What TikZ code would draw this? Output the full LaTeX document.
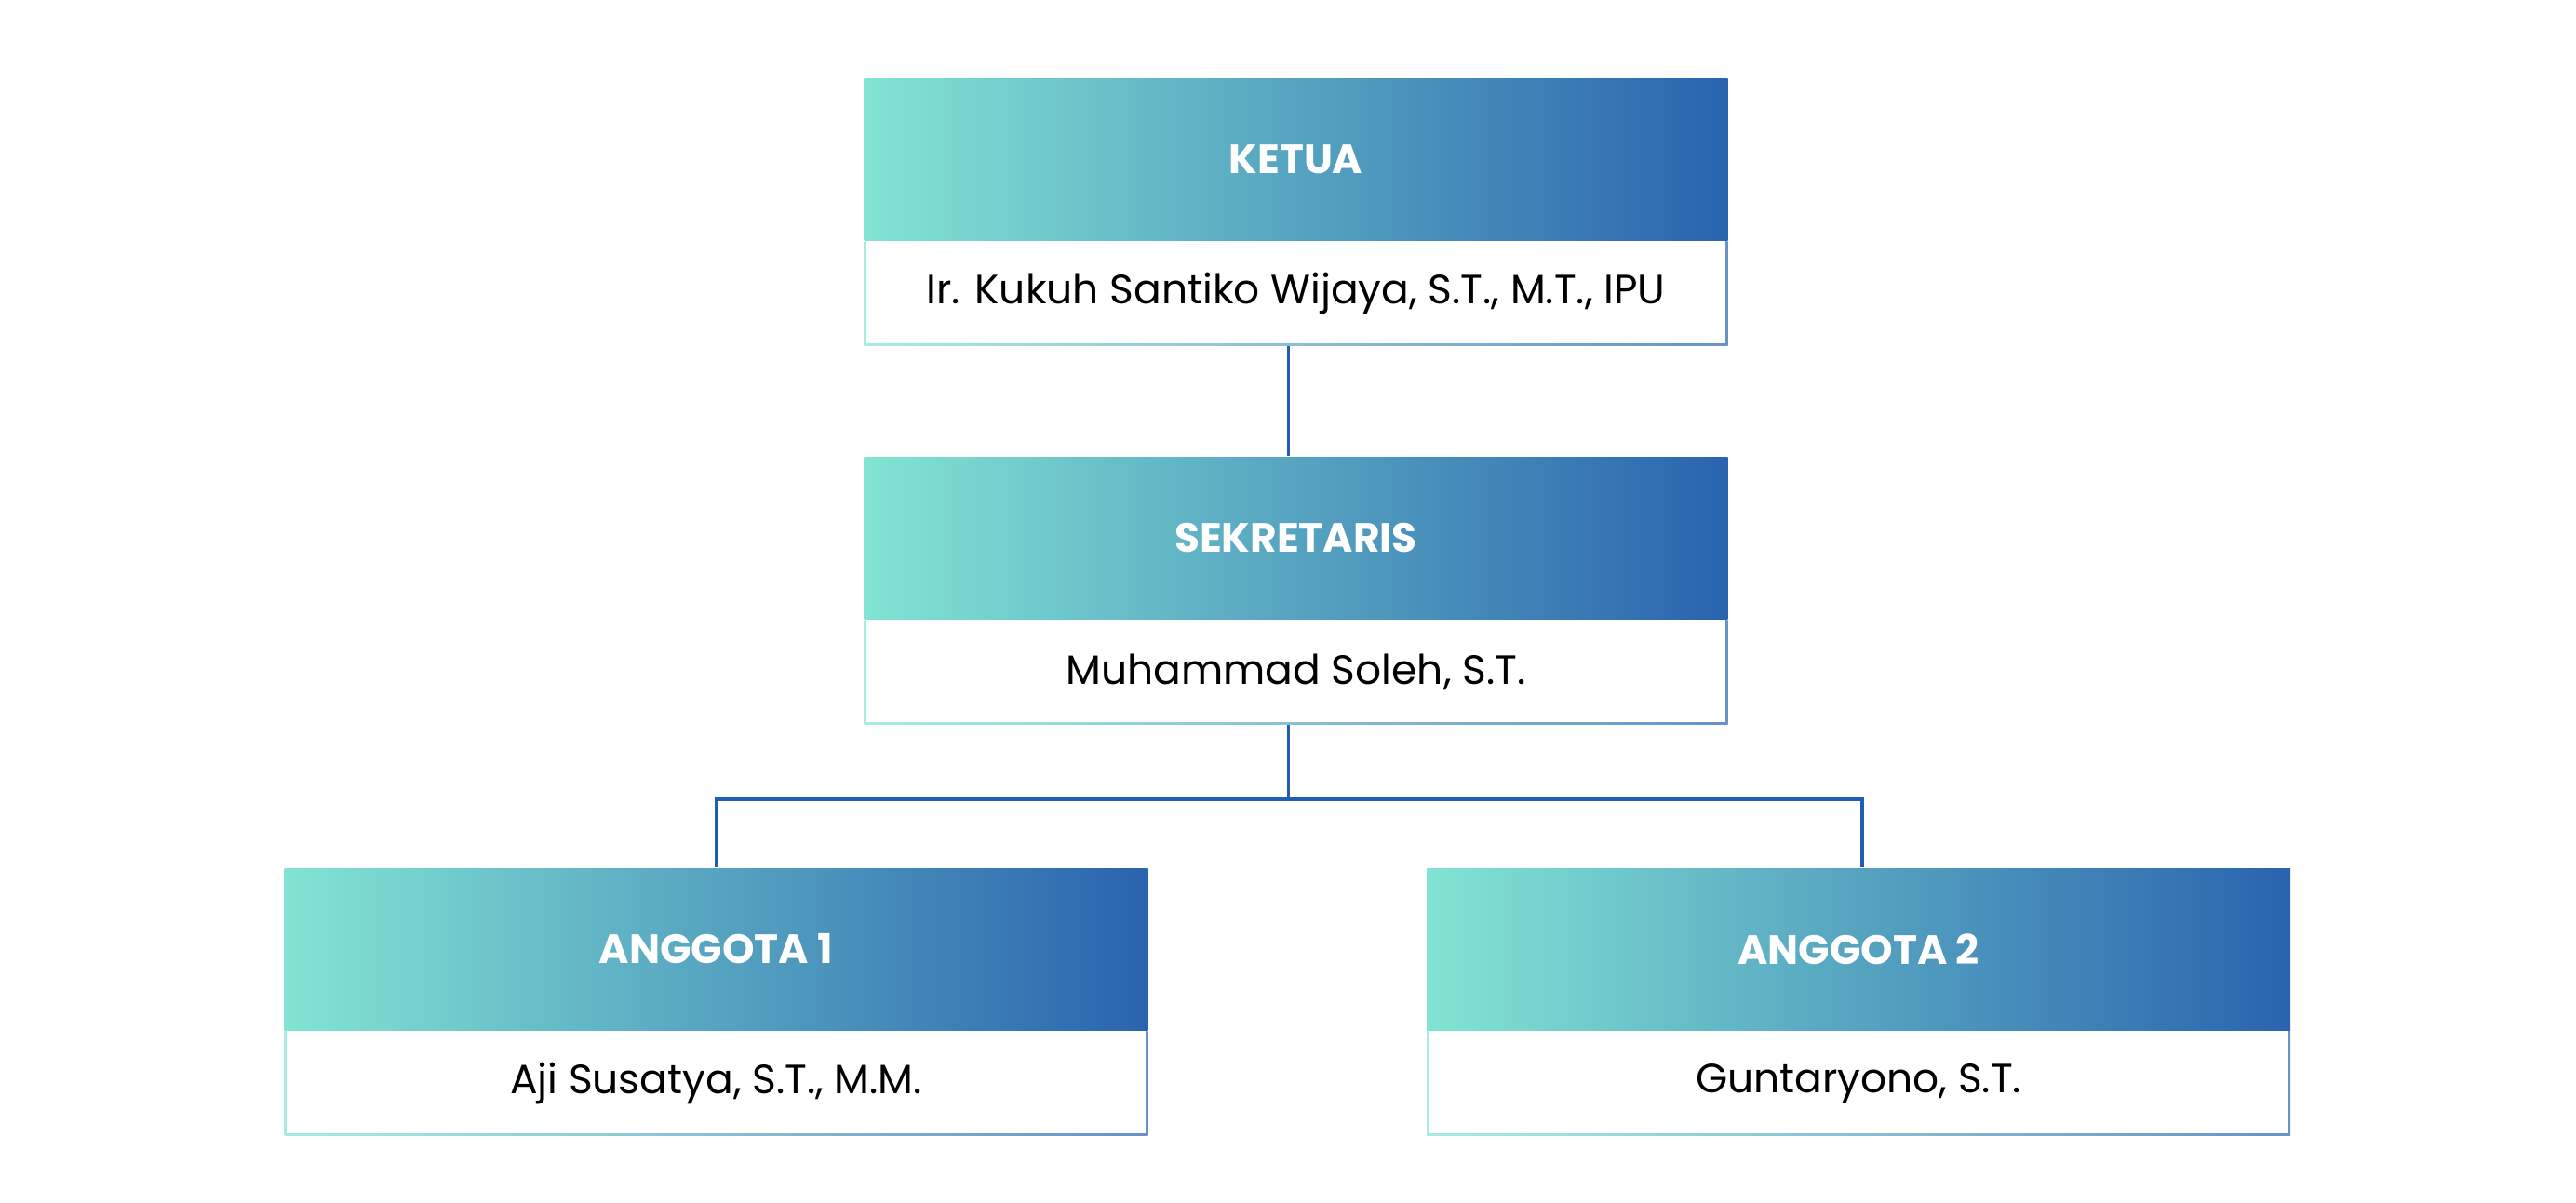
\documentclass[tikz,border=0pt]{standalone}
\usepackage{fontspec}
\setmainfont{Poppins}
\usetikzlibrary{positioning}
\definecolor{mint}{HTML}{82E4D3}
\definecolor{deepblue}{HTML}{2A63AE}
\definecolor{linkblue}{HTML}{1E5EB4}
\tikzset{
  headbox/.style={minimum width=9.28cm, minimum height=1.74cm, inner sep=0pt,
    left color=mint, right color=deepblue, text=white, font=\fontsize{12.5}{14}\selectfont\bfseries},
  namebox/.style={minimum width=9.28cm, minimum height=1.12cm, inner sep=0pt,
    left color=mint!70, right color=deepblue!70, font=\fontsize{12.5}{14}\selectfont,
    path picture={\fill[white] ([shift={(0.6pt,0.6pt)}]path picture bounding box.south west)
      rectangle ([shift={(-0.6pt,0pt)}]path picture bounding box.north east);}},
  link/.style={draw=linkblue, line width=1.1pt}
}
\begin{document}
\begin{tikzpicture}
\useasboundingbox[fill=white] (0,0) rectangle (27.68,-12.92);

\node[headbox] (ketua) at (13.925,-1.71) {KETUA};
\node[namebox, below=0pt of ketua] (ketuaname) {Ir. Kukuh Santiko Wijaya, S.T., M.T., IPU};

\node[headbox] (sekretaris) at (13.925,-5.78) {SEKRETARIS};
\node[namebox, below=0pt of sekretaris] (sekretarisname) {Muhammad Soleh, S.T.};

\node[headbox] (anggota1) at (7.695,-10.20) {ANGGOTA 1};
\node[namebox, below=0pt of anggota1] (anggota1name) {Aji Susatya, S.T., M.M.};

\node[headbox] (anggota2) at (19.97,-10.20) {ANGGOTA 2};
\node[namebox, below=0pt of anggota2] (anggota2name) {Guntaryono, S.T.};

\coordinate[below=0.8cm of sekretarisname, xshift=-0.08cm] (split);

\draw[link] ([xshift=-0.08cm]ketuaname.south) -- ([xshift=-0.08cm]sekretaris.north);
\draw[link] ([xshift=-0.08cm]sekretarisname.south) -- (split);
\draw[link] (split) -| (anggota1);
\draw[link] (split) -| ([xshift=0.04cm]anggota2.north);
\end{tikzpicture}
\end{document}
